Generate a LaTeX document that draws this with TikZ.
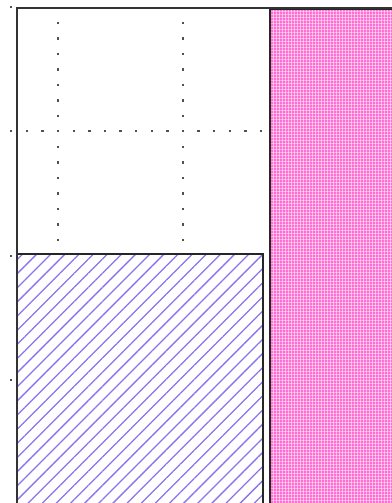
\documentclass[tikz,border=0pt]{standalone}
\usetikzlibrary{patterns.meta}
\definecolor{hatchblue}{RGB}{140,115,240}
\definecolor{pinkfill}{RGB}{255,110,210}
\definecolor{dotgrey}{RGB}{80,80,80}
\tikzset{
  gdot/.style={fill=dotgrey, draw=none},
  frameline/.style={draw=black!80, line width=2.2pt},
  boxline/.style={draw=black!85, line width=1.8pt},
}
\begin{document}
\begin{tikzpicture}[x=1pt,y=-1pt]
\useasboundingbox (0,0) rectangle (391,503);
\fill[white] (0,0) rectangle (391,503);
% pink region
\fill[pinkfill] (270,9) rectangle (395,507);
\fill[pattern={Lines[angle=0,distance=3pt,line width=0.8pt]}, pattern color=white, opacity=0.5] (270,9) rectangle (395,507);
\fill[pattern={Lines[angle=90,distance=3pt,line width=0.8pt]}, pattern color=white, opacity=0.5] (270,9) rectangle (395,507);
\draw[boxline] (270,507) -- (270,9) -- (395,9);
% hatched region
\fill[pattern={Lines[angle=45,distance=10pt,line width=1.3pt]}, pattern color=hatchblue] (17,254) rectangle (263,507);
\draw[boxline] (17,254) -- (263,254) -- (263,507);
% frame
\draw[frameline] (17,507) -- (17,8) -- (395,8);
% left tick dots
\foreach \y in {7,131,256,380} \fill[gdot] (9.8,\y-1.2) rectangle (12.2,\y+1.2);
% horizontal dotted row
\foreach \i in {0,...,15} \fill[gdot] ({27+15.6*\i-1.2},129.8) rectangle ({27+15.6*\i+1.2},132.2);
% vertical dotted columns
\foreach \x in {58,183} {
  \foreach \i in {0,...,6,8,9,...,14} \fill[gdot] (\x-1.2,{23+15.5*\i-1.2}) rectangle (\x+1.2,{23+15.5*\i+1.2});
}
\end{tikzpicture}
\end{document}
